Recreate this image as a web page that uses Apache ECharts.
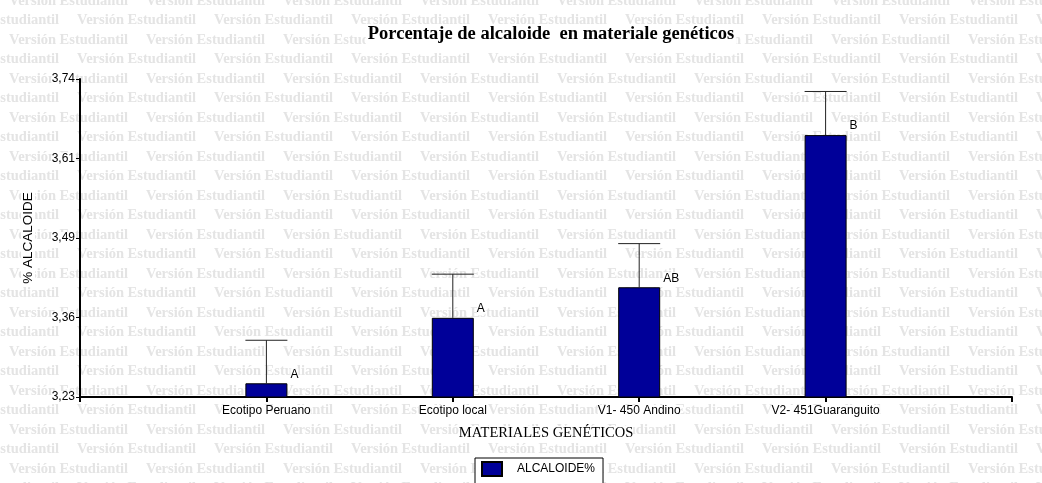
<!DOCTYPE html>
<html>
<head>
<meta charset="utf-8">
<script src="https://cdn.jsdelivr.net/npm/echarts@6/dist/echarts.min.js"></script>
<style>
  html, body { margin: 0; padding: 0; background: #fff; }
  #chart { width: 1042px; height: 483px; }
</style>
</head>
<body>
<div id="chart"></div>
<script>
// Genetic materials and their alkaloid content (%)
const materials = ['Ecotipo Peruano', 'Ecotipo local', 'V1- 450 Andino', 'V2- 451Guaranguito'];
const alkaloid = [3.252, 3.357, 3.406, 3.650];
const alkaloidUpper = [3.321, 3.427, 3.476, 3.720];   // top of each error bar
const groups = ['A', 'A', 'AB', 'B'];                  // mean comparison letters

// Value axis range and its printed tick labels
const yMin = 3.23;
const yMax = 3.74;
const yTickLabels = ['3,23', '3,36', '3,49', '3,61', '3,74'];

const BAR_W = 42;
const FONT_SANS = "'Liberation Sans', Arial, sans-serif";
const FONT_SERIF = "'Liberation Serif', 'Times New Roman', serif";

// Evenly spaced tick positions between the axis ends
const yTickValues = yTickLabels.map((_, i) => yMin + (yMax - yMin) * i / (yTickLabels.length - 1));

// Category axis with an empty slot at each end, so bars sit on inner ticks
const axisCats = [''].concat(materials, ['']);
const barData = ['-'].concat(alkaloid, ['-']);
const errData = materials.map((_, i) => [i + 1, alkaloid[i], alkaloidUpper[i]]);

// Repeating "Versión Estudiantil" background stamp
const stamp = [];
const ROW_H = 19.5, PERIOD = 137;
for (let r = -1; r < 26; r++) {
  const y = 20.7 + r * ROW_H;
  const x0 = (Math.abs(r) % 2 === 1) ? 9 : -60;
  for (let x = x0; x < 1042; x += PERIOD) {
    stamp.push({
      type: 'text', x: x, y: y, z: -10, silent: true,
      style: { text: 'Versión Estudiantil', fill: '#e4e4e4',
               font: 'bold 14.5px ' + FONT_SERIF, verticalAlign: 'middle', align: 'left' }
    });
  }
}

const chart = echarts.init(document.getElementById('chart'), null, { renderer: 'canvas' });

chart.setOption({
  backgroundColor: '#ffffff',
  animation: false,
  graphic: stamp,
  title: {
    text: 'Porcentaje de alcaloide  en materiale genéticos',
    left: 549, top: 24, padding: [1, 2],
    textAlign: 'center',
    backgroundColor: '#fff',
    textStyle: { fontFamily: FONT_SERIF, fontSize: 18.5, fontWeight: 'bold', color: '#000' }
  },
  legend: {
    data: ['ALCALOIDE%'],
    left: 475, top: 458,
    padding: [3, 8, 20, 6],
    backgroundColor: '#fff',
    borderColor: '#000', borderWidth: 1,
    icon: 'rect', itemWidth: 20, itemHeight: 14,
    textStyle: { fontFamily: FONT_SANS, fontSize: 12, color: '#000', padding: [0, 0, 0, 10] }
  },
  grid: { left: 80, top: 79, right: 30, bottom: 86, containLabel: false },
  xAxis: {
    type: 'category',
    data: axisCats,
    boundaryGap: false,
    name: 'MATERIALES GENÉTICOS',
    nameLocation: 'middle',
    nameGap: 29,
    nameTextStyle: { fontFamily: FONT_SERIF, fontSize: 14.5, color: '#000', backgroundColor: '#fff' },
    axisLine: { lineStyle: { color: '#000', width: 2 } },
    axisTick: { show: true, length: 5, lineStyle: { color: '#000', width: 2 } },
    axisLabel: { fontFamily: FONT_SANS, fontSize: 12, color: '#000', margin: 8,
                 backgroundColor: '#fff', interval: 0 },
    splitLine: { show: false }
  },
  yAxis: {
    type: 'value',
    min: yMin, max: yMax,
    name: '% ALCALOIDE',
    nameLocation: 'middle',
    nameRotate: 90,
    nameGap: 45,
    nameTextStyle: { fontFamily: FONT_SANS, fontSize: 13.5, color: '#000', backgroundColor: '#fff' },
    axisLine: { show: true, lineStyle: { color: '#000', width: 2 } },
    axisTick: { show: true, length: 4, customValues: yTickValues, lineStyle: { color: '#000', width: 1 } },
    axisLabel: {
      customValues: yTickValues,
      fontFamily: FONT_SANS, fontSize: 12, color: '#000', margin: 5,
      backgroundColor: '#fff',
      formatter: function (v) {
        let best = 0;
        yTickValues.forEach((t, i) => { if (Math.abs(t - v) < Math.abs(yTickValues[best] - v)) best = i; });
        return yTickLabels[best];
      }
    },
    splitLine: { show: false }
  },
  series: [
    {
      name: 'ALCALOIDE%',
      type: 'bar',
      data: barData,
      barWidth: BAR_W,
      itemStyle: { color: '#000099', borderColor: '#000', borderWidth: 1 },
      label: {
        show: true,
        position: [BAR_W + 3, -9],
        align: 'left', verticalAlign: 'middle',
        fontFamily: FONT_SANS, fontSize: 12, color: '#000',
        backgroundColor: '#fff',
        formatter: p => groups[p.dataIndex - 1]
      },
      z: 3
    },
    {
      name: 'error',
      type: 'custom',
      data: errData,
      z: 2,
      renderItem: function (params, api) {
        const i = api.value(0);
        const base = api.coord([i, api.value(1)]);
        const top = api.coord([i, api.value(2)]);
        const style = { stroke: '#222', lineWidth: 1 };
        return {
          type: 'group',
          children: [
            { type: 'line', shape: { x1: top[0], y1: base[1], x2: top[0], y2: top[1] }, style: style },
            { type: 'line', shape: { x1: top[0] - BAR_W / 2, y1: top[1], x2: top[0] + BAR_W / 2, y2: top[1] }, style: style }
          ]
        };
      }
    }
  ]
});
</script>
</body>
</html>
